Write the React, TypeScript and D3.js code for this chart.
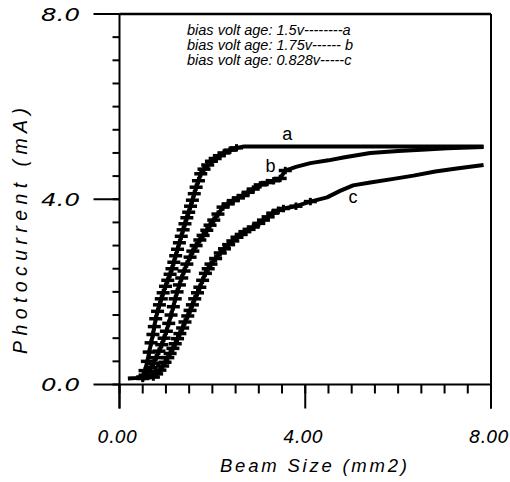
import React from 'react';
import * as d3 from 'd3';

const xTicks = [0, 4, 8];
const xTickLabels = ['0.00', '4.00', '8.00'];
const yTicks = [0, 4, 8];
const yTickLabels = ['0.0', '4.0', '8.0'];
const xMinorTicks = d3.range(0, 8.01, 0.5);
const yMinorTicks = d3.range(0, 8.01, 0.5);

const legendLines = [
  'bias volt age: 1.5v--------a',
  'bias volt age: 1.75v------ b',
  'bias volt age: 0.828v-----c',
];

const aX = [0.18, 0.35, 0.50, 0.55, 0.60, 0.64, 0.68, 0.72, 0.75, 0.78, 0.82, 0.86, 0.90, 0.94, 0.99, 1.04, 1.09, 1.13, 1.17, 1.21, 1.25, 1.29, 1.33, 1.37, 1.41, 1.45, 1.49, 1.53, 1.57, 1.61, 1.65, 1.70, 1.75, 1.82, 1.90, 1.98, 2.06, 2.15, 2.25, 2.38, 2.52, 2.68, 3.0, 4.0, 5.0, 6.0, 7.0, 7.84];
const aY = [0.13, 0.14, 0.16, 0.3, 0.5, 0.7, 0.9, 1.08, 1.25, 1.42, 1.58, 1.72, 1.85, 1.98, 2.12, 2.25, 2.38, 2.5, 2.64, 2.78, 2.92, 3.06, 3.2, 3.34, 3.47, 3.6, 3.72, 3.85, 3.98, 4.12, 4.26, 4.4, 4.55, 4.65, 4.74, 4.82, 4.88, 4.94, 5.0, 5.06, 5.11, 5.14, 5.14, 5.14, 5.14, 5.14, 5.14, 5.14];

const bX = [0.40, 0.55, 0.62, 0.68, 0.73, 0.79, 0.85, 0.91, 0.96, 1.01, 1.06, 1.11, 1.16, 1.20, 1.24, 1.29, 1.34, 1.39, 1.45, 1.52, 1.58, 1.65, 1.73, 1.80, 1.88, 1.95, 2.03, 2.12, 2.23, 2.34, 2.45, 2.56, 2.66, 2.77, 2.88, 3.03, 3.18, 3.32, 3.46, 3.57, 3.8, 4.11, 4.5, 4.82, 5.4, 6.0, 6.5, 7.06, 7.84];
const bY = [0.13, 0.2, 0.28, 0.37, 0.46, 0.58, 0.72, 0.86, 1.0, 1.15, 1.32, 1.5, 1.68, 1.85, 2.0, 2.15, 2.3, 2.45, 2.6, 2.75, 2.88, 3.0, 3.12, 3.22, 3.33, 3.44, 3.55, 3.68, 3.83, 3.9, 3.97, 4.03, 4.08, 4.15, 4.22, 4.31, 4.36, 4.4, 4.45, 4.62, 4.7, 4.78, 4.84, 4.9, 5.0, 5.04, 5.07, 5.1, 5.13];

const cX = [0.50, 0.73, 0.80, 0.87, 0.93, 0.98, 1.04, 1.09, 1.15, 1.20, 1.25, 1.30, 1.36, 1.41, 1.47, 1.52, 1.57, 1.62, 1.68, 1.73, 1.79, 1.85, 1.91, 1.97, 2.07, 2.17, 2.26, 2.35, 2.44, 2.53, 2.62, 2.70, 2.79, 2.88, 3.0, 3.1, 3.2, 3.3, 3.42, 3.53, 3.8, 4.11, 4.47, 4.75, 5.03, 5.4, 5.9, 6.33, 6.8, 7.3, 7.84];
const cY = [0.13, 0.16, 0.23, 0.31, 0.4, 0.48, 0.58, 0.67, 0.78, 0.88, 0.99, 1.1, 1.22, 1.35, 1.48, 1.6, 1.72, 1.85, 1.98, 2.1, 2.25, 2.4, 2.5, 2.6, 2.72, 2.84, 2.93, 3.02, 3.1, 3.18, 3.24, 3.3, 3.35, 3.4, 3.48, 3.55, 3.62, 3.7, 3.76, 3.8, 3.85, 3.95, 4.04, 4.18, 4.3, 4.36, 4.44, 4.51, 4.6, 4.67, 4.74];

// x-range of points carrying error bars for each series
const errLimit = [2.6, 3.6, 4.2];
const curveNames = ['a', 'b', 'c'];
const curveLabelX = [3.61, 3.25, 5.03];
const curveLabelY = [5.27, 4.58, 3.91];

const W = 510;
const H = 482;
const left = 119.5;
const right = 491;
const top = 14;
const bottom = 384.5;

export default function App() {
  const x = d3.scaleLinear().domain([0, 8]).range([left, right]);
  const y = d3.scaleLinear().domain([0, 8]).range([bottom, top]);
  const line = d3.line<[number, number]>().x((d) => x(d[0])).y((d) => y(d[1]));
  const series = [
    aX.map((v, i) => [v, aY[i]] as [number, number]),
    bX.map((v, i) => [v, bY[i]] as [number, number]),
    cX.map((v, i) => [v, cY[i]] as [number, number]),
  ];
  const tickFont = 'DejaVu Sans, Verdana, sans-serif';
  const arial = 'Liberation Sans, Arial, sans-serif';
  return (
    <svg width={W} height={H} style={{ position: 'absolute', left: 0, top: 0, background: '#fff' }}>
      <rect x={0} y={0} width={W} height={H} fill="#fff" />
      {/* frame */}
      <line x1={x(0)} x2={x(8)} y1={y(8)} y2={y(8)} stroke="#000" strokeWidth={2.5} />
      <line x1={x(0)} x2={x(8)} y1={y(0)} y2={y(0)} stroke="#000" strokeWidth={2} />
      <line x1={x(0)} x2={x(0)} y1={y(8)} y2={y(0) + 24} stroke="#000" strokeWidth={2} />
      <line x1={x(8)} x2={x(8)} y1={y(8)} y2={y(0) + 24} stroke="#000" strokeWidth={2} />
      {/* y ticks */}
      {yMinorTicks.map((t) => (
        <line key={'ym' + t} x1={x(0) - 7} x2={x(0)} y1={y(t)} y2={y(t)} stroke="#000" strokeWidth={2} />
      ))}
      {yTicks.map((t) => (
        <line key={'yM' + t} x1={x(0) - 26} x2={x(0)} y1={y(t)} y2={y(t)} stroke="#000" strokeWidth={2} />
      ))}
      {yTicks.map((t, i) => (
        <text key={'yl' + t} x={80} y={y(t) + 6.5} textAnchor="end" fontFamily={tickFont} fontStyle="italic"
          fontSize={18} textLength={39} lengthAdjust="spacingAndGlyphs">{yTickLabels[i]}</text>
      ))}
      {/* x ticks */}
      {xMinorTicks.map((t) => (
        <line key={'xm' + t} x1={x(t)} x2={x(t)} y1={y(0)} y2={y(0) + 9} stroke="#000" strokeWidth={2} />
      ))}
      {xTicks.map((t) => (
        <line key={'xM' + t} x1={x(t)} x2={x(t)} y1={y(0)} y2={y(0) + 24} stroke="#000" strokeWidth={2} />
      ))}
      {xTicks.map((t, i) => (
        <text key={'xl' + t} x={x(t) - 2} y={443} textAnchor="middle" fontFamily={tickFont} fontStyle="italic"
          fontSize={18}>{xTickLabels[i]}</text>
      ))}
      {/* axis titles */}
      <text x={313.5} y={472} textAnchor="middle" fontFamily={arial} fontStyle="italic" fontSize={18.5}
        textLength={187} lengthAdjust="spacing">Beam Size (mm2)</text>
      <text transform="translate(27,231) rotate(-90)" textAnchor="middle" fontFamily={arial} fontStyle="italic"
        fontSize={19.5} textLength={246} lengthAdjust="spacing">Photocurrent (mA)</text>
      {/* legend */}
      {legendLines.map((s, i) => (
        <text key={'lg' + i} x={187} y={35 + i * 14.8} fontFamily={arial} fontStyle="italic" fontSize={14.5}>{s}</text>
      ))}
      {/* curves */}
      {series.map((pts, si) => (
        <g key={'s' + si}>
          <path d={line(pts) || ''} fill="none" stroke="#000" strokeWidth={4} strokeLinejoin="round" />
          {pts.filter((p) => p[0] > 0.45 && p[0] <= errLimit[si]).map((p, j) => (
            <g key={j}>
              <line x1={x(p[0] - 0.14)} x2={x(p[0] + 0.14)} y1={y(p[1])} y2={y(p[1])} stroke="#000" strokeWidth={3.5} />
              <line x1={x(p[0])} x2={x(p[0])} y1={y(p[1] - 0.08)} y2={y(p[1] + 0.08)} stroke="#000" strokeWidth={3} />
            </g>
          ))}
          <text x={x(curveLabelX[si])} y={y(curveLabelY[si])} textAnchor="middle" fontFamily={arial} fontSize={18}>
            {curveNames[si]}
          </text>
        </g>
      ))}
    </svg>
  );
}
